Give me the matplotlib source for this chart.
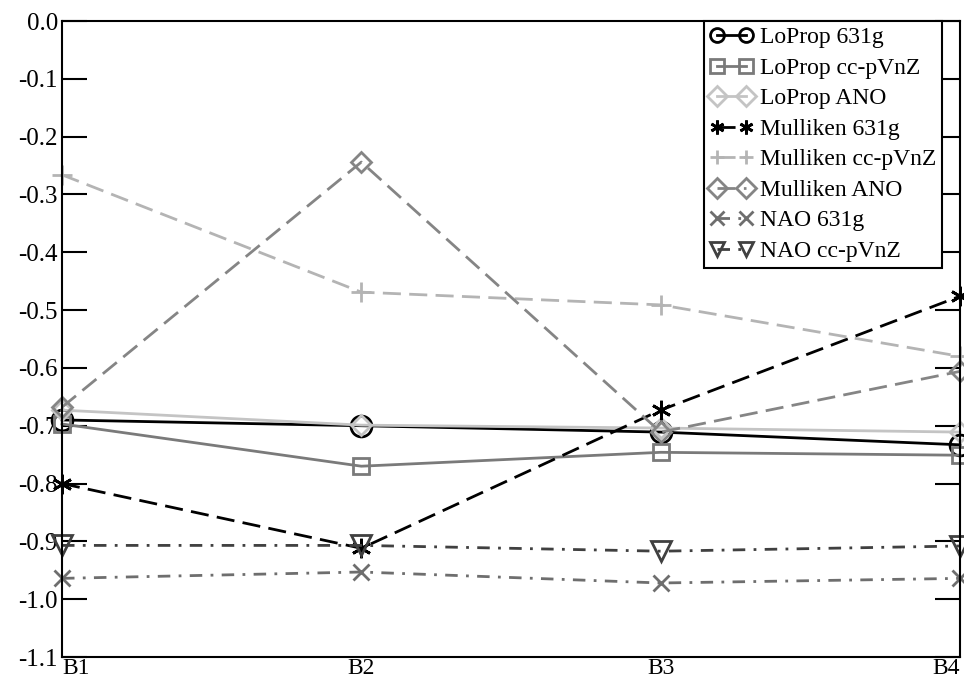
import matplotlib

matplotlib.use("Agg")
import matplotlib.pyplot as plt

plt.rcParams["font.family"] = ["Liberation Serif", "DejaVu Serif"]

categories = ["B1", "B2", "B3", "B4"]
y_ticks = [0.0, -0.1, -0.2, -0.3, -0.4, -0.5, -0.6, -0.7, -0.8, -0.9, -1.0, -1.1]

loprop_631g = [-0.690, -0.700, -0.711, -0.733]
loprop_ccpvnz = [-0.697, -0.770, -0.746, -0.751]
loprop_ano = [-0.673, -0.699, -0.704, -0.711]
mulliken_631g = [-0.800, -0.912, -0.673, -0.476]
mulliken_ccpvnz = [-0.266, -0.469, -0.491, -0.580]
mulliken_ano = [-0.668, -0.244, -0.711, -0.606]
nao_631g = [-0.964, -0.953, -0.972, -0.964]
nao_ccpvnz = [-0.907, -0.907, -0.917, -0.908]

dash = (0, (6.5, 3))
dash_dot = (0, (4.5, 3, 1, 3))

# (label, values, colour, linestyle, marker, markersize)
series = [
    ("LoProp 631g", loprop_631g, "black", "-", "o", 15),
    ("LoProp cc-pVnZ", loprop_ccpvnz, "#7a7a7a", "-", "s", 12),
    ("LoProp ANO", loprop_ano, "#c4c4c4", "-", "D", 10),
    ("Mulliken 631g", mulliken_631g, "black", dash, (6, 2, 0), 14),
    ("Mulliken cc-pVnZ", mulliken_ccpvnz, "#b4b4b4", dash, "+", 14),
    ("Mulliken ANO", mulliken_ano, "#858585", dash, "D", 10),
    ("NAO 631g", nao_631g, "#6e6e6e", dash_dot, "x", 11),
    ("NAO cc-pVnZ", nao_ccpvnz, "#404040", dash_dot, "v", 14),
]

fig = plt.figure(figsize=(9.64, 6.85), dpi=100)
ax = fig.add_axes([62 / 964, 1 - 657 / 685, 898 / 964, 636 / 685])

x = list(range(len(categories)))
for label, values, color, style, marker, ms in series:
    ax.plot(x, values, color=color, linestyle=style, linewidth=2.0, marker=marker,
            markersize=ms, markerfacecolor="none", markeredgecolor=color,
            markeredgewidth=2.0, label=label, clip_on=False)

ax.set_xlim(0, 3)
ax.set_ylim(-1.1, 0.0)
ax.set_yticks(y_ticks)
ax.set_yticklabels([f"{v:.1f}" for v in y_ticks], fontsize=18)
ax.tick_params(axis="y", direction="in", length=18, width=1.5, right=True, pad=3)
ax.set_xticks(x)
ax.set_xticklabels(categories, fontsize=17)
ax.tick_params(axis="x", length=0, pad=1)
tick_labels = ax.get_xticklabels()
tick_labels[0].set_horizontalalignment("left")
tick_labels[-1].set_horizontalalignment("right")
for spine in ax.spines.values():
    spine.set_linewidth(1.5)

leg = ax.legend(loc="upper right", bbox_to_anchor=(880 / 898, 1.0), borderaxespad=0,
                fontsize=17, numpoints=2, handlelength=1.8, handletextpad=0.3,
                labelspacing=0.38, borderpad=0.25, fancybox=False, framealpha=1,
                edgecolor="black")
leg.get_frame().set_linewidth(1.5)
for handle in leg.legend_handles:
    handle.set_markersize(10)

fig.savefig("out.png", dpi=100)
